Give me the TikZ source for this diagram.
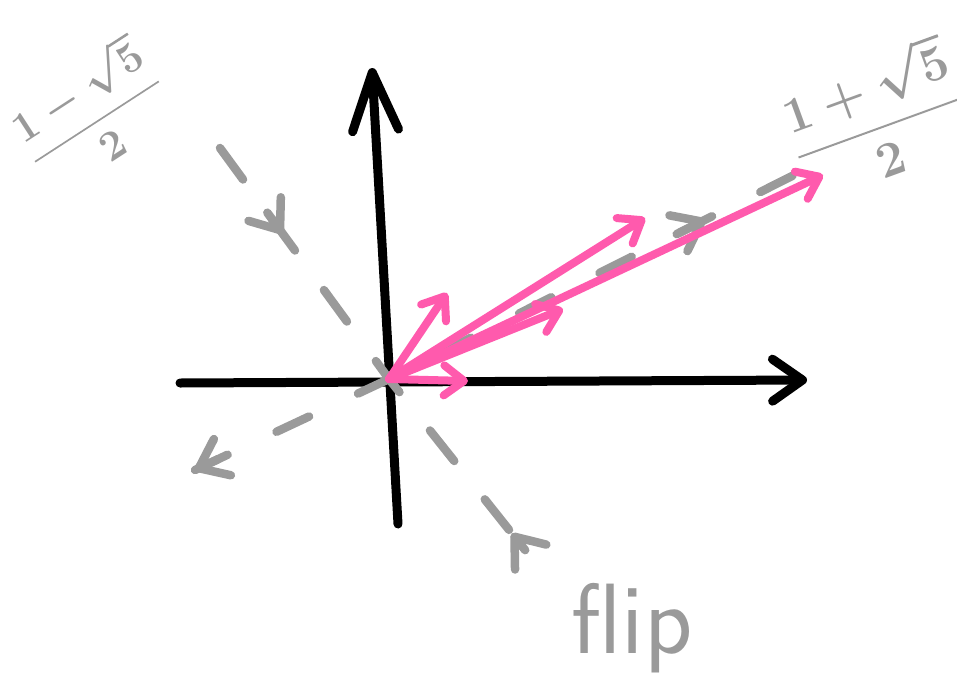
\documentclass[tikz,border=0pt]{standalone}
\usepackage{amsmath}
\usepackage{xcolor,tikz}
\usetikzlibrary{arrows.meta,calc}
\definecolor{pencil}{HTML}{9A9A9A}
\definecolor{hotpink}{HTML}{FF5AAD}

\begin{document}
\begin{tikzpicture}[x=1pt,y=-1pt,line cap=round,line join=round]
\tikzset{axis/.style={draw=black,line width=9pt},
  guide/.style={draw=pencil,line width=8.5pt},
  gtip/.style={guide,-{Straight Barb[length=26pt,width=40pt,round]}},
  vec/.style={draw=hotpink,line width=8pt,-{Straight Barb[length=20pt,width=30pt,round]}},
  hand/.style={text=pencil,inner sep=0pt,font=\Huge\boldmath,transform shape}}
\useasboundingbox (0,0) rectangle (957,696);
% axes
\coordinate (O) at (389,379);
\coordinate (xl) at (180,383);
\coordinate (xr) at (807,380);
\coordinate (yb) at (398,524);
\coordinate (yt) at (372,68);
\draw[axis,-{Straight Barb[length=30pt,width=42pt,round]}] (xl)--(xr);
\draw[axis,-{Straight Barb[length=58pt,width=46pt,round]}] (yb)--(yt);
% eigen directions
\coordinate (a1) at (195,470);
\coordinate (a2) at (800,172);
\coordinate (b1) at (220,148);
\coordinate (b2) at (537,565);
\draw[guide,dash pattern=on 36pt off 54pt] (a1)--(O)--(a2);
\draw[guide,dash pattern=on 39pt off 49pt] (b1)--(O)--(b2);
\draw[gtip] ($(a1)!0.12!(O)$)--(a1);
\draw[gtip] ($(O)!0.70!(a2)$)--($(O)!0.77!(a2)$);
\draw[gtip] ($(b1)!0.28!(O)$)--($(b1)!0.37!(O)$);
\draw[gtip] ($(O)!0.92!(b2)$)--($(O)!0.83!(b2)$);
% iterates
\coordinate (v1) at (468,381);
\coordinate (v2) at (447,293);
\coordinate (v3) at (563,309);
\coordinate (v4) at (645,218);
\coordinate (v5) at (823,175);
\draw[vec] (O)--(v1);
\draw[vec] (O)--(v2);
\draw[vec] (O)--(v3);
\draw[vec] (O)--(v4);
\draw[vec] (O)--(v5);
% labels
\node[hand,rotate=33,scale=1.7] (lminus) at (92,114) {$\dfrac{1-\sqrt{5}}{2}$};
\node[hand,rotate=20,scale=2] (lplus) at (876,118) {$\dfrac{1+\sqrt{5}}{2}$};
\node[text=pencil,inner sep=0pt,font=\fontsize{100}{110}\sffamily\selectfont] (flip) at (632,628) {flip};
\end{tikzpicture}
\end{document}
